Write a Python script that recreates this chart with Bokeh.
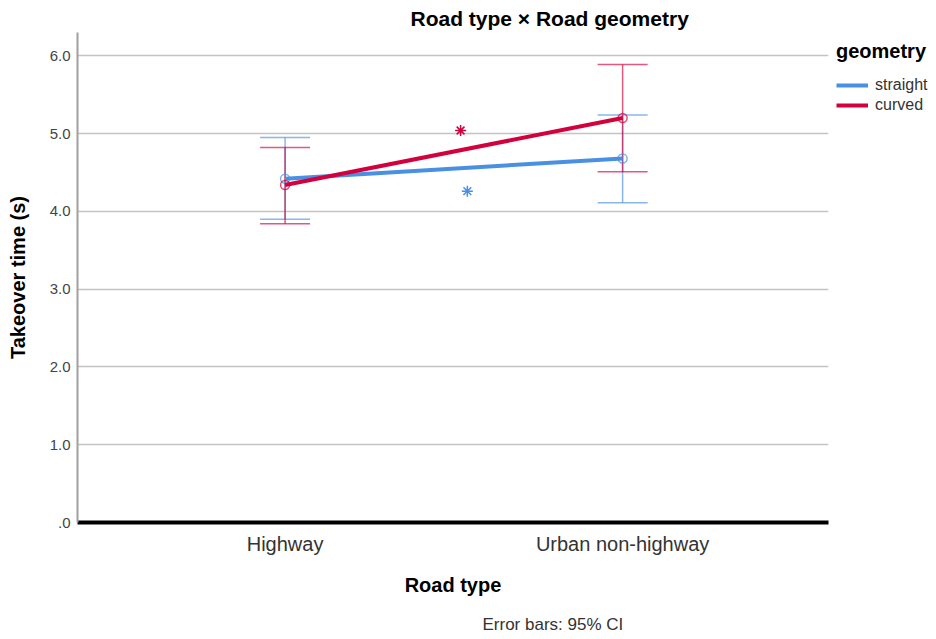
from bokeh.plotting import figure
from bokeh.models import (Range1d, FixedTicker, Whisker, TeeHead, ColumnDataSource,
                          Legend, LegendItem, Title)
from bokeh.embed import file_html
from bokeh.resources import INLINE

# ---- data ----
road_types = ["Highway", "Urban non-highway"]
x_pos = [1, 2]
geometries = ["straight", "curved"]
straight_mean = [4.42, 4.68]
straight_lower = [3.90, 4.11]
straight_upper = [4.95, 5.24]
curved_mean = [4.34, 5.20]
curved_lower = [3.84, 4.51]
curved_upper = [4.82, 5.89]
# significance markers
star_x = [1.52, 1.54]
star_y = [5.04, 4.26]
y_ticks = [0, 1, 2, 3, 4, 5, 6]
y_tick_labels = [".0", "1.0", "2.0", "3.0", "4.0", "5.0", "6.0"]

BLUE = "#4a90e2"
RED = "#d2003c"
FONT = "Liberation Sans"

p = figure(frame_width=751, frame_height=490, output_backend="svg", toolbar_location=None,
           x_range=Range1d(0.385, 2.61), y_range=Range1d(0, 6.3),
           min_border_left=77, min_border_right=108, min_border_top=32,
           min_border_bottom=117)
p.outline_line_color = None
p.background_fill_color = "white"
p.border_fill_color = "white"

# grid
p.xgrid.grid_line_color = None
p.ygrid.ticker = FixedTicker(ticks=y_ticks)
p.ygrid.grid_line_color = "#c4c4c4"
p.ygrid.grid_line_width = 1.5

# y axis
p.yaxis.ticker = FixedTicker(ticks=y_ticks)
p.yaxis.major_label_overrides = {t: l for t, l in zip(y_ticks, y_tick_labels)}
p.yaxis.axis_label = "Takeover time (s)"
p.yaxis.axis_label_text_font = FONT
p.yaxis.axis_label_text_font_style = "bold"
p.yaxis.axis_label_text_font_size = "20px"
p.yaxis.axis_label_text_color = "black"
p.yaxis.axis_label_standoff = 18
p.yaxis.major_label_text_font = FONT
p.yaxis.major_label_text_font_size = "15px"
p.yaxis.major_label_text_color = "#444444"
p.yaxis.major_label_standoff = 7
p.yaxis.major_tick_out = 0
p.yaxis.major_tick_in = 0
p.yaxis.minor_tick_line_color = None
p.yaxis.axis_line_color = "#a0a0a0"
p.yaxis.axis_line_width = 2

# x axis
p.xaxis.ticker = FixedTicker(ticks=x_pos)
p.xaxis.major_label_overrides = {x: n for x, n in zip(x_pos, road_types)}
p.xaxis.axis_label = "Road type"
p.xaxis.axis_label_text_font = FONT
p.xaxis.axis_label_text_font_style = "bold"
p.xaxis.axis_label_text_font_size = "20px"
p.xaxis.axis_label_text_color = "black"
p.xaxis.axis_label_standoff = 16
p.xaxis.major_label_text_font = FONT
p.xaxis.major_label_text_font_size = "20px"
p.xaxis.major_label_text_color = "#333333"
p.xaxis.major_label_standoff = 4
p.xaxis.major_tick_line_color = None
p.xaxis.minor_tick_line_color = None
p.xaxis.axis_line_color = "black"
p.xaxis.axis_line_width = 4

# error bars
series = [
    (straight_mean, straight_lower, straight_upper, BLUE),
    (curved_mean, curved_lower, curved_upper, RED),
]
for mean, lo, up, col in series:
    src = ColumnDataSource(dict(x=x_pos, lower=lo, upper=up))
    w = Whisker(source=src, base="x", lower="lower", upper="upper", dimension="height",
                line_color=col, line_alpha=0.65, line_width=1.5,
                upper_head=TeeHead(size=50, line_color=col, line_alpha=0.65, line_width=1.5),
                lower_head=TeeHead(size=50, line_color=col, line_alpha=0.65, line_width=1.5))
    p.add_layout(w)

items = []
for (mean, lo, up, col), name in zip(series, geometries):
    ln = p.line(x_pos, mean, line_color=col, line_width=4)
    p.scatter(x_pos, mean, marker="circle", size=9, fill_color=None,
              line_color=col, line_alpha=0.7, line_width=1.5)
    items.append(LegendItem(label=name, renderers=[ln]))

# significance asterisks
p.scatter([star_x[0]], [star_y[0]], marker="asterisk", size=11, line_color=RED, line_width=1.5)
p.scatter([star_x[1]], [star_y[1]], marker="asterisk", size=11, line_color=BLUE, line_width=1.5)

legend = Legend(items=items, location="top_left", title="geometry")
legend.title_text_font = FONT
legend.title_text_font_style = "bold"
legend.title_text_font_size = "20px"
legend.title_text_color = "black"
legend.title_standoff = 12
legend.label_text_font = FONT
legend.label_text_font_size = "16px"
legend.label_text_color = "#333333"
legend.glyph_width = 32
legend.glyph_height = 20
legend.label_height = 20
legend.label_standoff = 7
legend.spacing = 0
legend.padding = 4
legend.margin = 8
legend.border_line_color = None
legend.background_fill_alpha = 0
p.add_layout(legend, "right")

# title and footnote
p.add_layout(Title(text="Road type × Road geometry", align="left", offset=333,
                   text_font=FONT, text_font_style="bold", text_font_size="21px",
                   text_color="black", standoff=6), "above")
p.add_layout(Title(text="Error bars: 95% CI", align="left", offset=405,
                   text_font=FONT, text_font_style="normal", text_font_size="17px",
                   text_color="#333333", standoff=29), "below")

open("out.html", "w").write(file_html(p, INLINE))
